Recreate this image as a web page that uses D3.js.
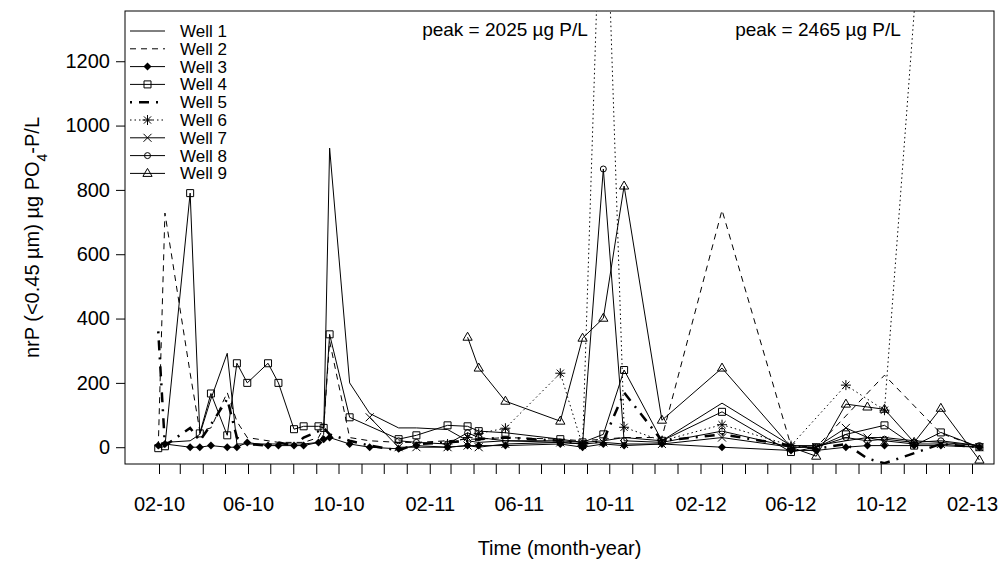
<!DOCTYPE html>
<html>
<head>
<meta charset="utf-8">
<script src="https://cdn.jsdelivr.net/npm/d3@7"></script>
<style>
  body { margin: 0; background: #fff; }
  svg text { font-family: "Liberation Sans", Arial, sans-serif; fill: #000; }
</style>
</head>
<body>
<div id="chart"></div>
<script>
// sampling dates (shared by all wells, null = not sampled)
const sampleDates = [
  "2010-01-31", "2010-02-09", "2010-03-15", "2010-03-28", "2010-04-12", "2010-05-04",
  "2010-05-17", "2010-05-31", "2010-06-28", "2010-07-12", "2010-08-02", "2010-08-15",
  "2010-09-04", "2010-09-11", "2010-09-19", "2010-10-16", "2010-11-12", "2010-12-21",
  "2011-01-14", "2011-02-25", "2011-03-24", "2011-04-08", "2011-05-14", "2011-07-27",
  "2011-08-26", "2011-09-23", "2011-10-21", "2011-12-11", "2012-03-01", "2012-06-02",
  "2012-07-06", "2012-08-15", "2012-09-13", "2012-10-06", "2012-11-15", "2012-12-21",
  "2013-02-11"
];

const well1 = [5, 15, 20, 40, 150, 292, 10, 10, 10, 10, 10, 10, 15, 40, 930, 200, 105, 60,
  60, 55, 20, 15, 20, 20, 15, 20, 30, 20, 137, 5, 5, 20, 30, 30, 20, 15, 5];
const well2 = [0, 728, 230, 50, 60, 170, 80, 30, 20, 15, 15, 15, 30, 60, 330, 30, 20, 15,
  15, 20, 25, 25, 30, 25, 20, 25, 30, 30, 737, 5, 0, null, null, 224, null, 43, 0];
const well3 = [5, 10, 0, 0, 5, 0, 0, 15, 5, 5, 5, 5, 15, 25, 30, 10, 0, -5,
  5, 0, 5, 5, 5, 10, 0, 10, 5, 10, 0, -10, -10, 0, 5, 5, 5, 5, 0];
const well4 = [-3, 3, 790, 43, 167, 37, 261, 200, 261, 200, 56, 65, 65, 60, 351, 93, null, 25,
  37, 68, 65, 50, 45, 25, 15, 40, 240, 20, 110, -15, 0, 40, null, 68, 5, 46, 0];
const well5 = [360, 5, 60, 20, 70, 150, 30, 10, 5, 15, 5, 30, 50, 60, 40, 20, 5, -10,
  10, 15, 20, 25, 30, 20, 10, 20, 170, 20, 40, 5, -5, 10, -35, -50, null, 10, 0];
const well6 = [null, null, null, null, null, null, null, null, null, null, null, null, null, null, null, null, null, null,
  null, 10, 30, 43, 59, 230, 5, 2025, 62, 20, 70, 5, null, 193, null, 115, null, 2465, null];
const well7 = [null, null, null, null, null, null, null, null, null, null, null, null, null, null, null, null, 93, 0,
  0, 0, 5, 0, 10, 15, 10, 15, 10, 10, 30, 0, 0, 60, 30, 20, 10, 10, 0];
const well8 = [null, null, null, null, null, null, null, null, null, null, null, null, null, null, null, null, null, 20,
  15, 10, 45, 30, 20, 15, 10, 865, 20, 15, 50, 0, 0, 30, 20, 25, 15, 20, 5];
const well9 = [null, null, null, null, null, null, null, null, null, null, null, null, null, null, null, null, null, null,
  null, null, 342, 246, 143, 81, 339, 401, 812, 84, 246, 0, -28, 134, 125, 118, 15, 121, -40];

const wellNames = ["Well 1", "Well 2", "Well 3", "Well 4", "Well 5", "Well 6", "Well 7", "Well 8", "Well 9"];
const wellValues = [well1, well2, well3, well4, well5, well6, well7, well8, well9];
const yTicks = [0, 200, 400, 600, 800, 1000, 1200];
const peakLabels = ["peak = 2025 \u00b5g P/L", "peak = 2465 \u00b5g P/L"];

// line / marker style for each well (R lty + pch)
const styles = [
  { dash: null, width: 1, mark: null },
  { dash: "6,5", width: 1, mark: null },
  { dash: null, width: 1, mark: "diamond" },
  { dash: null, width: 1, mark: "square" },
  { dash: "2,7,10,7", width: 2.5, mark: null },
  { dash: "1.5,3", width: 1, mark: "asterisk" },
  { dash: null, width: 1, mark: "cross" },
  { dash: null, width: 1, mark: "circle" },
  { dash: null, width: 1, mark: "triangle" }
];

const W = 1002, H = 577;
const box = { left: 125, right: 994, top: 11, bottom: 464 };

const parse = d3.timeParse("%Y-%m-%d");

const svg = d3.select("#chart").append("svg")
  .attr("width", W)
  .attr("height", H);

const x = d3.scaleTime()
  .domain([new Date(2010, 1, 1), new Date(2013, 1, 1)])
  .range([159, 972]);

const y = d3.scaleLinear()
  .domain([-52.2, 1356.2])
  .range([box.bottom, box.top]);

svg.append("clipPath").attr("id", "plotclip")
  .append("rect")
  .attr("x", box.left).attr("y", box.top)
  .attr("width", box.right - box.left).attr("height", box.bottom - box.top);

// axes
const yAxis = svg.append("g")
  .attr("transform", `translate(${box.left},0)`)
  .call(d3.axisLeft(y).tickValues(yTicks).tickSize(9).tickPadding(6).tickFormat(d3.format("d")));
yAxis.select(".domain").remove();

const months = d3.timeMonth.range(new Date(2010, 1, 1), new Date(2013, 1, 2));
const xAxis = svg.append("g")
  .attr("transform", `translate(0,${box.bottom})`)
  .call(d3.axisBottom(x).tickValues(months).tickSize(10).tickPadding(23)
    .tickFormat((d, i) => i % 4 === 0 ? d3.timeFormat("%m-%y")(d) : ""));
xAxis.select(".domain").remove();

svg.selectAll(".tick line").attr("stroke", "#000");
svg.selectAll(".tick text").style("font-size", "20px").attr("fill", "#000");

// plot box
svg.append("rect")
  .attr("x", box.left).attr("y", box.top)
  .attr("width", box.right - box.left).attr("height", box.bottom - box.top)
  .attr("fill", "none").attr("stroke", "#000").attr("stroke-width", 1);

// marker shapes
function addMarker(sel, type) {
  if (type === "diamond") {
    sel.append("path").attr("d", "M0,-4L4,0L0,4L-4,0Z").attr("fill", "#000");
  } else if (type === "square") {
    sel.append("path").attr("d", "M-3.5,-3.5h7v7h-7z").attr("fill", "none").attr("stroke", "#000");
  } else if (type === "asterisk") {
    sel.append("path").attr("d", "M-5,0H5M0,-5V5M-3.6,-3.6L3.6,3.6M-3.6,3.6L3.6,-3.6").attr("stroke", "#000");
  } else if (type === "cross") {
    sel.append("path").attr("d", "M-4,-4L4,4M-4,4L4,-4").attr("stroke", "#000");
  } else if (type === "circle") {
    sel.append("circle").attr("r", 3).attr("fill", "none").attr("stroke", "#000");
  } else if (type === "triangle") {
    sel.append("path").attr("d", "M0,-5L4.6,3L-4.6,3Z").attr("fill", "none").attr("stroke", "#000");
  }
}

const line = d3.line()
  .x(d => x(d.date))
  .y(d => y(d.value));

const plot = svg.append("g").attr("clip-path", "url(#plotclip)");

wellValues.forEach((vals, i) => {
  const pts = vals.map((v, j) => ({ date: parse(sampleDates[j]), value: v }))
    .filter(d => d.value !== null);
  const st = styles[i];

  plot.append("path")
    .datum(pts)
    .attr("d", line)
    .attr("fill", "none")
    .attr("stroke", "#000")
    .attr("stroke-width", st.width)
    .attr("stroke-dasharray", st.dash);

  if (st.mark) {
    plot.selectAll(".m" + i)
      .data(pts)
      .enter()
      .append("g")
      .attr("class", "m" + i)
      .attr("transform", d => `translate(${x(d.date)},${y(d.value)})`)
      .each(function() { addMarker(d3.select(this), st.mark); });
  }
});

// legend
const legend = svg.append("g");
wellNames.forEach((name, i) => {
  const ly = 31 + i * 17.8;
  const st = styles[i];
  legend.append("line")
    .attr("x1", 130).attr("x2", 165).attr("y1", ly).attr("y2", ly)
    .attr("stroke", "#000")
    .attr("stroke-width", st.width)
    .attr("stroke-dasharray", st.dash);
  if (st.mark) {
    const g = legend.append("g").attr("transform", `translate(147.5,${ly})`);
    addMarker(g, st.mark);
  }
  legend.append("text")
    .attr("x", 180).attr("y", ly)
    .attr("dy", "0.35em")
    .style("font-size", "17px")
    .text(name);
});

// peak annotations
svg.append("text").attr("x", 505).attr("y", 29).attr("dy", "0.35em")
  .attr("text-anchor", "middle").style("font-size", "19px").text(peakLabels[0]);
svg.append("text").attr("x", 818).attr("y", 29).attr("dy", "0.35em")
  .attr("text-anchor", "middle").style("font-size", "19px").text(peakLabels[1]);

// axis titles
svg.append("text")
  .attr("x", (box.left + box.right) / 2).attr("y", 548)
  .attr("dy", "0.35em")
  .attr("text-anchor", "middle")
  .style("font-size", "20px")
  .text("Time (month-year)");

const ylab = svg.append("text")
  .attr("transform", `translate(32,${(box.top + box.bottom) / 2}) rotate(-90)`)
  .attr("text-anchor", "middle")
  .attr("dy", "0.35em")
  .style("font-size", "20px");
ylab.append("tspan").text("nrP (<0.45 \u00b5m) \u00b5g PO");
ylab.append("tspan").attr("baseline-shift", "sub").style("font-size", "14px").text("4");
ylab.append("tspan").text("-P/L");
</script>
</body>
</html>
